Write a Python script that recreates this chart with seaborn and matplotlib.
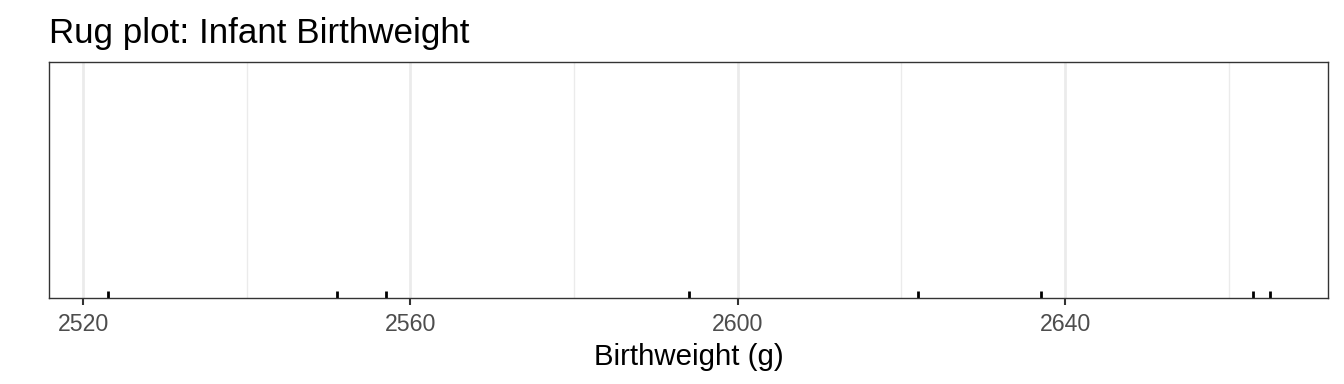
import matplotlib
matplotlib.use("Agg")
import matplotlib.pyplot as plt
import seaborn as sns
import numpy as np

birthweight = [2523, 2551, 2557, 2594, 2622, 2637, 2663, 2665]
major_ticks = [2520, 2560, 2600, 2640]
minor_ticks = [2540, 2580, 2620, 2660]
title = "Rug plot: Infant Birthweight"
xlabel = "Birthweight (g)"

sns.set_style("white")
plt.rcParams['font.family'] = ['Liberation Sans', 'DejaVu Sans']

fig = plt.figure(figsize=(13.44, 3.84), dpi=100)
ax = fig.add_axes([0.0368, 0.2240, 0.9512, 0.6146])

sns.rugplot(x=birthweight, height=0.03, color="black", linewidth=2, ax=ax, expand_margins=False)

lo, hi = min(birthweight), max(birthweight)
pad = (hi - lo) * 0.05
ax.set_xlim(lo - pad, hi + pad)
ax.set_ylim(0, 1)

ax.set_xticks(major_ticks)
ax.set_xticks(minor_ticks, minor=True)
ax.set_yticks([])
ax.grid(True, which="major", axis="x", color="#EBEBEB", linewidth=2.0)
ax.grid(True, which="minor", axis="x", color="#EBEBEB", linewidth=1.0)
ax.set_axisbelow(True)

for s in ax.spines.values():
    s.set_color("#333333")
    s.set_linewidth(1.0)

ax.tick_params(axis="x", which="major", length=5, width=1.5, color="#333333",
               labelsize=16.7, labelcolor="#4D4D4D", pad=5.5, bottom=True)
ax.tick_params(axis="x", which="minor", length=0)

ax.set_xlabel(xlabel, fontsize=21.2, color="black", labelpad=5)
ax.set_ylabel("")
ax.set_title(title, fontsize=25.2, loc="left", color="black", pad=14)

fig.savefig("out.png", dpi=100)
